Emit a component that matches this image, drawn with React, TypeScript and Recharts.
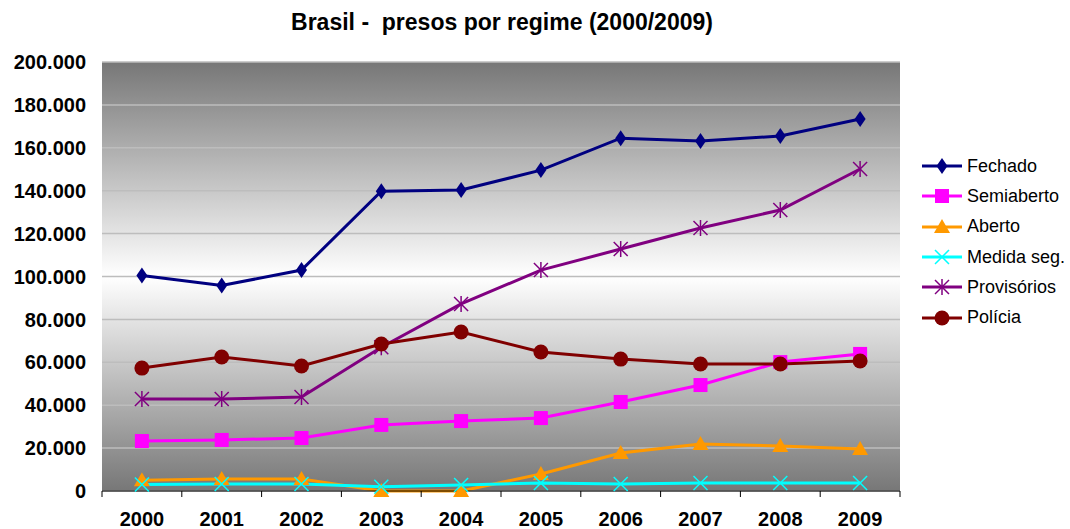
import { CartesianGrid, Line, LineChart, XAxis, YAxis } from "recharts";

const years = ["2000", "2001", "2002", "2003", "2004", "2005", "2006", "2007", "2008", "2009"];
const fechado = [100500, 95800, 103000, 139800, 140300, 149600, 164500, 163200, 165500, 173400];
const semiaberto = [23300, 23800, 24700, 30800, 32600, 34000, 41500, 49400, 60100, 63900];
const aberto = [5000, 5600, 5600, 0, 0, 7900, 17700, 21900, 21000, 19600];
const medidaSeg = [3000, 3300, 3300, 2000, 2800, 3700, 3300, 3700, 3700, 3700];
const provisorios = [42900, 42900, 43800, 67000, 87200, 103000, 112800, 122600, 131000, 150100];
const policia = [57300, 62500, 58300, 68500, 74100, 64800, 61500, 59200, 59200, 60600];
const yTicks = [0, 20000, 40000, 60000, 80000, 100000, 120000, 140000, 160000, 180000, 200000];

const data = years.map((year, i) => ({
  year,
  fechado: fechado[i],
  semiaberto: semiaberto[i],
  aberto: aberto[i],
  medidaSeg: medidaSeg[i],
  provisorios: provisorios[i],
  policia: policia[i],
}));

const series = [
  { key: "fechado", name: "Fechado", color: "#000080", shape: "diamond" },
  { key: "semiaberto", name: "Semiaberto", color: "#FF00FF", shape: "square" },
  { key: "aberto", name: "Aberto", color: "#FF9900", shape: "triangle" },
  { key: "medidaSeg", name: "Medida seg.", color: "#00FFFF", shape: "x" },
  { key: "provisorios", name: "Provisórios", color: "#800080", shape: "star" },
  { key: "policia", name: "Polícia", color: "#800000", shape: "circle" },
];

const PLOT_LEFT = 102;
const PLOT_RIGHT = 900;
const BAND = (PLOT_RIGHT - PLOT_LEFT) / years.length;
const FONT = "Arial, 'Liberation Sans', sans-serif";

const fmt = (v: number) => v.toString().replace(/\B(?=(\d{3})+(?!\d))/g, ".");

const Marker = ({ shape, cx, cy, color }: { shape: string; cx: number; cy: number; color: string }) => {
  switch (shape) {
    case "diamond":
      return <polygon points={`${cx},${cy - 8} ${cx + 5.5},${cy} ${cx},${cy + 8} ${cx - 5.5},${cy}`} fill={color} />;
    case "square":
      return <rect x={cx - 7} y={cy - 7} width={14} height={14} fill={color} />;
    case "triangle":
      return <polygon points={`${cx},${cy - 8} ${cx + 8},${cy + 6} ${cx - 8},${cy + 6}`} fill={color} />;
    case "x":
      return (
        <g stroke={color} strokeWidth={1.5}>
          <line x1={cx - 7} y1={cy - 7} x2={cx + 7} y2={cy + 7} />
          <line x1={cx - 7} y1={cy + 7} x2={cx + 7} y2={cy - 7} />
        </g>
      );
    case "star":
      return (
        <g stroke={color} strokeWidth={1.5}>
          <line x1={cx - 7} y1={cy - 7} x2={cx + 7} y2={cy + 7} />
          <line x1={cx - 7} y1={cy + 7} x2={cx + 7} y2={cy - 7} />
          <line x1={cx} y1={cy - 8} x2={cx} y2={cy + 8} />
        </g>
      );
    default:
      return <circle cx={cx} cy={cy} r={7.5} fill={color} />;
  }
};

const XTick = ({ x, y, payload, index }: any) => {
  const last = index === years.length - 1;
  return (
    <g>
      <line x1={x - BAND / 2} y1={y - 8} x2={x - BAND / 2} y2={y - 2} stroke="#000" />
      {last && <line x1={x + BAND / 2} y1={y - 8} x2={x + BAND / 2} y2={y - 2} stroke="#000" />}
      <text x={x} y={y + 27} textAnchor="middle" fontWeight="bold" fontSize={20} fill="#000" fontFamily={FONT}>
        {payload.value}
      </text>
    </g>
  );
};

const ChartLegend = () => (
  <div style={{ position: "absolute", left: 920, top: 151, fontFamily: FONT, fontSize: 18, color: "#000" }}>
    {series.map((s) => (
      <div key={s.key} style={{ display: "flex", alignItems: "center", height: 30.3 }}>
        <svg width={44} height={20} style={{ display: "block" }}>
          <line x1={2} y1={10} x2={42} y2={10} stroke={s.color} strokeWidth={3} />
          <Marker shape={s.shape} cx={22} cy={10} color={s.color} />
        </svg>
        <span style={{ marginLeft: 3 }}>{s.name}</span>
      </div>
    ))}
  </div>
);

const App = () => {
  return (
    <div style={{ position: "relative", width: 1070, height: 529, background: "#fff", fontFamily: FONT }}>
      <style>{`body { margin: 0; }`}</style>
      <div
        style={{
          position: "absolute",
          left: 0,
          top: 9,
          width: 1004,
          textAlign: "center",
          fontWeight: "bold",
          fontSize: 23,
          whiteSpace: "pre",
          color: "#000",
          zIndex: 1,
        }}
      >
        {"Brasil -  presos por regime (2000/2009)"}
      </div>
      <LineChart width={1070} height={529} data={data} margin={{ top: 62, right: 170, bottom: 0, left: 2 }}>
        <defs>
          <linearGradient id="plotBg" x1="0" y1="0" x2="0" y2="1">
            <stop offset="0%" stopColor="#777777" />
            <stop offset="50%" stopColor="#ffffff" />
            <stop offset="100%" stopColor="#777777" />
          </linearGradient>
        </defs>
        <CartesianGrid vertical={false} stroke="#bdbdbd" strokeWidth={1.5} fill="url(#plotBg)" fillOpacity={1} />
        <XAxis
          dataKey="year"
          tick={<XTick />}
          tickLine={false}
          axisLine={{ stroke: "#000", strokeWidth: 1 }}
          interval={0}
          height={38}
          padding={{ left: BAND / 2, right: BAND / 2 }}
        />
        <YAxis
          domain={[0, 200000]}
          ticks={yTicks}
          tickFormatter={fmt}
          width={100}
          axisLine={false}
          tickLine={false}
          tickMargin={10}
          tick={{ fontSize: 20, fontWeight: "bold", fill: "#000", fontFamily: FONT }}
          interval={0}
        />
        {series.map((s) => (
          <Line
            key={s.key}
            type="linear"
            dataKey={s.key}
            name={s.name}
            stroke={s.color}
            strokeWidth={3}
            isAnimationActive={false}
            dot={(p: any) => <Marker key={`${s.key}-${p.index}`} shape={s.shape} cx={p.cx} cy={p.cy} color={s.color} />}
            activeDot={false}
          />
        ))}
      </LineChart>
      <ChartLegend />
    </div>
  );
};

export default App;
